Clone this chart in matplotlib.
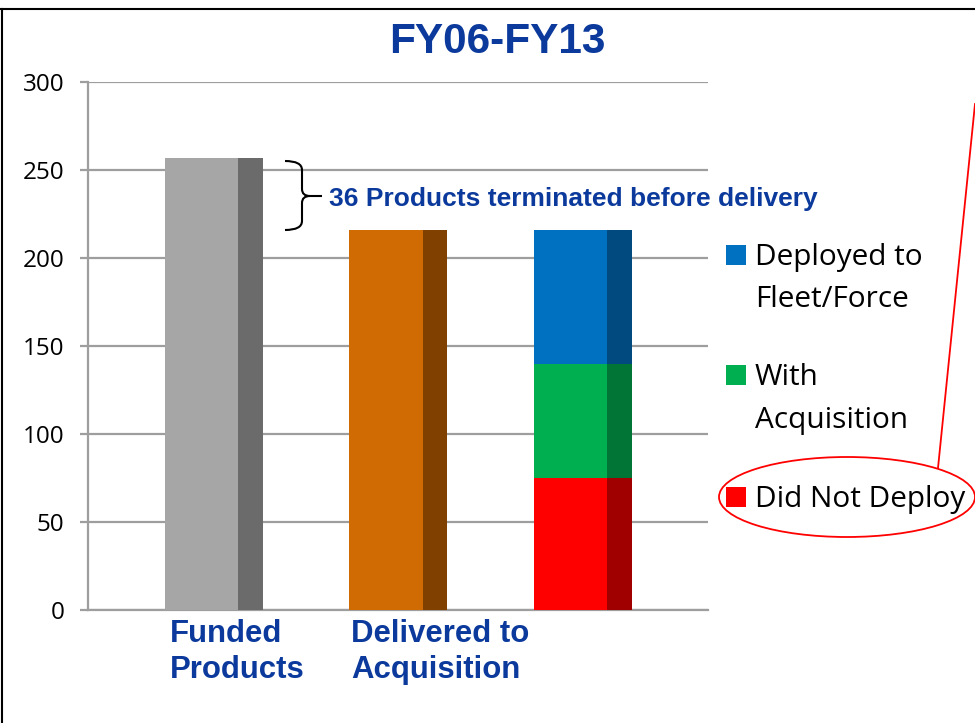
import matplotlib
matplotlib.use("Agg")
import matplotlib.pyplot as plt
import matplotlib.transforms as mtransforms
from matplotlib.patches import Rectangle, Ellipse, PathPatch
from matplotlib.path import Path
from matplotlib.lines import Line2D
import numpy as np

# ---- data ----
categories = ["Funded\nProducts", "Delivered to\nAcquisition", ""]
funded = [257]
delivered = [216]
did_not_deploy = [75]
with_acquisition = [65]
deployed = [76]
series_labels = ["Deployed to\nFleet/Force", "With\nAcquisition", "Did Not Deploy"]
yticks = [0, 50, 100, 150, 200, 250, 300]
title = "FY06-FY13"
note = "36 Products terminated before delivery"

# ---- style ----
BLUE_TXT = "#0b3a9c"
GRID = "#9e9e9e"
front_cols = {"funded": "#a6a6a6", "delivered": "#d06b04",
              "dnd": "#ff0000", "wa": "#00b050", "dep": "#0070c0"}
side_cols = {"funded": "#6b6b6b", "delivered": "#7f4000",
             "dnd": "#a00000", "wa": "#007535", "dep": "#004a80"}

W, H = 975, 723
fig = plt.figure(figsize=(W / 100, H / 100), dpi=100)
fig.patch.set_facecolor("white")


def fx(x):
    return x / W


def fy(y):
    return 1 - y / H


ax = fig.add_axes([fx(88), fy(610), fx(708) - fx(88), fy(82) - fy(610)])
ax.set_xlim(-0.683, 2.678)
ax.set_ylim(0, 300)

BW = 0.531
FRONT = 0.396


def bar3d(x, heights, bottoms, keys):
    for h, b, k in zip(heights, bottoms, keys):
        ax.bar(x - BW / 2, h, width=FRONT, bottom=b, align="edge",
               color=front_cols[k], zorder=3, linewidth=0)
        ax.bar(x - BW / 2 + FRONT, h, width=BW - FRONT, bottom=b, align="edge",
               color=side_cols[k], zorder=3, linewidth=0)


bar3d(0, funded, [0], ["funded"])
bar3d(1, delivered, [0], ["delivered"])
stack = [did_not_deploy[0], with_acquisition[0], deployed[0]]
bottoms = np.concatenate([[0], np.cumsum(stack)[:-1]])
bar3d(2, stack, bottoms, ["dnd", "wa", "dep"])

# axes styling
ax.set_yticks(yticks)
ax.set_xticks([])
ax.yaxis.grid(True, color=GRID, linewidth=1.6)
ax.set_axisbelow(True)
for s in ["top", "right"]:
    ax.spines[s].set_visible(False)
for s in ["left", "bottom"]:
    ax.spines[s].set_color(GRID)
    ax.spines[s].set_linewidth(1.6)
ax.tick_params(axis="y", length=6, width=1.6, color=GRID, pad=11,
               labelsize=17.5)
for lab in ax.get_yticklabels():
    lab.set_family("Open Sans")
ax.patch.set_alpha(0)

# category labels
blend = mtransforms.blended_transform_factory(ax.transData, fig.transFigure)
baselines = [642, 678]
label_offsets = [0.028, 0.010, 0.0]
for i, cat in enumerate(categories):
    for j, line in enumerate(cat.split("\n")):
        if not line:
            continue
        ax.text(i - BW / 2 + label_offsets[i], fy(baselines[j]), line, transform=blend,
                ha="left", va="baseline", fontsize=22.4, fontweight="bold",
                color=BLUE_TXT, family="Liberation Sans")

# title
fig.text(fx(497), fy(53), title, ha="center", va="baseline", fontsize=30.5,
         fontweight="bold", color=BLUE_TXT, family="Liberation Sans")

# annotation + brace
fig.text(fx(329), fy(206), note, ha="left", va="baseline", fontsize=19,
         fontweight="bold", color=BLUE_TXT, family="Liberation Sans")
pts = [(285, 161), (302, 161), (302, 170), (302, 189), (302, 196), (310, 196), (322, 196),
       (310, 196), (302, 196), (302, 203), (302, 221), (302, 230), (285, 230)]
codes = [Path.MOVETO, Path.CURVE3, Path.CURVE3, Path.LINETO, Path.CURVE3, Path.CURVE3,
         Path.LINETO,
         Path.MOVETO, Path.CURVE3, Path.CURVE3, Path.LINETO, Path.CURVE3, Path.CURVE3]
brace = Path([(fx(a), fy(b)) for a, b in pts], codes)
fig.patches.append(PathPatch(brace, transform=fig.transFigure, fill=False,
                             edgecolor="black", linewidth=1.5))

# legend (manual)
leg_keys = ["dep", "wa", "dnd"]
leg_base = [[265, 307], [385, 428], [507]]
for k, lab, bases in zip(leg_keys, series_labels, leg_base):
    fig.patches.append(Rectangle((fx(726), fy(bases[0])), fx(20), 20 / H,
                                 transform=fig.transFigure,
                                 facecolor=front_cols[k], edgecolor="none"))
    for line, b in zip(lab.split("\n"), bases):
        fig.text(fx(755), fy(b), line, ha="left", va="baseline", fontsize=21.4,
                 color="black", family="Open Sans")

# red ellipse + line
fig.patches.append(Ellipse((fx(847), fy(497)), 256 / W, 80 / H,
                           transform=fig.transFigure, fill=False,
                           edgecolor="#ff0000", linewidth=1.3))
fig.lines.append(Line2D([fx(938), fx(975)], [fy(468), fy(104)],
                        transform=fig.transFigure, color="#ff0000", linewidth=1.3))

# frame
fig.lines.append(Line2D([0, 1], [fy(9), fy(9)], transform=fig.transFigure,
                        color="black", linewidth=1.5))
fig.lines.append(Line2D([fx(2), fx(2)], [0, fy(9)], transform=fig.transFigure,
                        color="black", linewidth=1.5))

fig.savefig("out.png", dpi=100)
